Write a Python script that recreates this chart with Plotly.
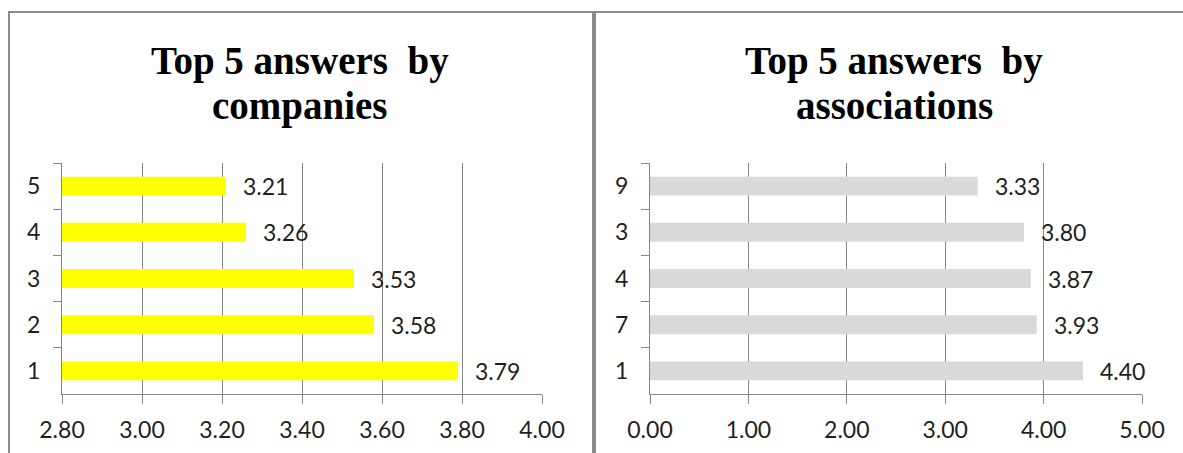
import plotly.graph_objects as go

# Survey results: average score of the five highest-ranked answers
company_answers = ["1", "2", "3", "4", "5"]
company_scores = [3.79, 3.58, 3.53, 3.26, 3.21]

association_answers = ["1", "7", "4", "3", "9"]
association_scores = [4.40, 3.93, 3.87, 3.80, 3.33]

company_ticks = [2.80, 3.00, 3.20, 3.40, 3.60, 3.80, 4.00]
association_ticks = [0.00, 1.00, 2.00, 3.00, 4.00, 5.00]

W, H = 1183, 453
GRID = "#878787"
TEXT = "#1f1f1f"
TICK_FONT = dict(family="Lato, 'Open Sans', sans-serif", size=23, color=TEXT)
TITLE_FONT = dict(family="'Liberation Serif', 'Times New Roman', serif", size=39, color="#000000")


def px_x(p):
    return p / W


def px_y(p):
    return 1 - p / H


fig = go.Figure()

fig.add_trace(go.Bar(
    x=company_scores, y=company_answers, orientation="h",
    marker=dict(color="#FFFF00", line=dict(width=0)),
    xaxis="x", yaxis="y", hoverinfo="skip", showlegend=False,
))
fig.add_trace(go.Bar(
    x=association_scores, y=association_answers, orientation="h",
    marker=dict(color="#D9D9D9", line=dict(width=0)),
    xaxis="x2", yaxis="y2", hoverinfo="skip", showlegend=False,
))

y_dom = [px_y(394), px_y(163)]

x_common = dict(
    showgrid=True, gridcolor=GRID, gridwidth=1,
    showline=True, linecolor=GRID, linewidth=1,
    ticks="outside", ticklen=9, tickcolor=GRID, tickwidth=1,
    zeroline=False, tickfont=TICK_FONT, tickformat=".2f",
    ticklabelstandoff=6, automargin=False, fixedrange=True,
)
y_common = dict(
    type="category", showgrid=False,
    showline=True, linecolor=GRID, linewidth=1,
    ticks="outside", ticklen=8, tickcolor=GRID, tickwidth=1,
    tickson="boundaries", tickfont=TICK_FONT, ticklabelstandoff=16,
    zeroline=False, fixedrange=True, domain=y_dom, automargin=False,
)

fig.update_layout(
    width=W, height=H,
    margin=dict(l=0, r=0, t=0, b=0, autoexpand=False),
    paper_bgcolor="white", plot_bgcolor="white",
    bargap=0.59,
    xaxis=dict(x_common, domain=[px_x(62), px_x(542)], range=[2.8, 4.0],
               tickvals=company_ticks, anchor="y"),
    yaxis=dict(y_common, anchor="x", categoryorder="array", categoryarray=company_answers),
    xaxis2=dict(x_common, domain=[px_x(650), px_x(1142)], range=[0, 5],
                tickvals=association_ticks, anchor="y2"),
    yaxis2=dict(y_common, anchor="x2", categoryorder="array", categoryarray=association_answers),
)

# Value labels next to each bar (category axes are addressed by index)
for xs, xr, yr in [(company_scores, "x", "y"), (association_scores, "x2", "y2")]:
    for i, v in enumerate(xs):
        fig.add_annotation(x=v, y=i, xref=xr, yref=yr, text=f"{v:.2f}",
                           showarrow=False, xanchor="left", yanchor="middle",
                           xshift=15, font=TICK_FONT)

# Panel titles
titles = [(300, ["Top 5 answers&nbsp; by", "companies"]),
          (894, ["Top 5 answers&nbsp; by", "associations"])]
for cx, lines in titles:
    for i, line in enumerate(lines):
        fig.add_annotation(x=px_x(cx), y=px_y(61 + 45 * i), xref="paper", yref="paper",
                           text=f"<b>{line}</b>", showarrow=False,
                           xanchor="center", yanchor="middle", font=TITLE_FONT)

# Panel frames
fig.add_shape(type="rect", xref="paper", yref="paper",
              x0=px_x(9), x1=px_x(593), y0=px_y(470), y1=px_y(12),
              line=dict(color="#8a8a8a", width=2), fillcolor="rgba(0,0,0,0)", layer="below")
fig.add_shape(type="rect", xref="paper", yref="paper",
              x0=px_x(595), x1=px_x(1200), y0=px_y(470), y1=px_y(12),
              line=dict(color="#8a8a8a", width=2), fillcolor="rgba(0,0,0,0)", layer="below")

fig.write_html("out.html")
